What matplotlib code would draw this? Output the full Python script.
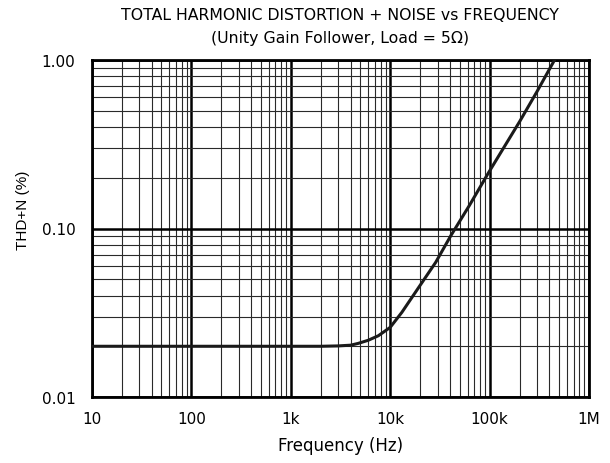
import matplotlib
matplotlib.use("Agg")
import matplotlib.pyplot as plt
from matplotlib.ticker import FixedLocator, NullFormatter, LogLocator

plt.rcParams['font.family'] = ['DejaVu Sans']

# Data
freq_hz = [10, 100, 1000, 2000, 3000, 4000, 4760, 6000, 7600, 10000, 13100, 19400,
           28700, 40700, 62600, 96000, 136000, 200000, 300000, 450000]
thd_n = [0.020, 0.020, 0.020, 0.020, 0.0201, 0.0203, 0.0208, 0.0217, 0.0231, 0.0259, 0.0318, 0.0448,
         0.063, 0.0906, 0.137, 0.211, 0.296, 0.43, 0.65, 1.00]

x_ticks = [10, 100, 1000, 10000, 100000, 1000000]
x_ticklabels = ["10", "100", "1k", "10k", "100k", "1M"]
y_ticks = [0.01, 0.1, 1.0]
y_ticklabels = ["0.01", "0.10", "1.00"]

fig = plt.figure(figsize=(6.1, 4.64), dpi=100)
ax = fig.add_axes([92/610, 1-398/464, (589-92)/610, (398-61)/464])

ax.set_xscale('log')
ax.set_yscale('log')
ax.set_xlim(10, 1e6)
ax.set_ylim(0.01, 1.0)

ax.xaxis.set_major_locator(FixedLocator(x_ticks))
ax.set_xticklabels(x_ticklabels)
ax.yaxis.set_major_locator(FixedLocator(y_ticks))
ax.set_yticklabels(y_ticklabels)
ax.xaxis.set_minor_locator(LogLocator(base=10, subs=range(2, 10), numticks=100))
ax.yaxis.set_minor_locator(LogLocator(base=10, subs=range(2, 10), numticks=100))
ax.xaxis.set_minor_formatter(NullFormatter())
ax.yaxis.set_minor_formatter(NullFormatter())

ax.grid(which='major', color='black', linewidth=1.8)
ax.grid(which='minor', color='#2a2a2a', linewidth=0.8)
ax.tick_params(which='both', length=0, labelsize=11, colors='black')
ax.tick_params(axis='x', pad=10)
ax.tick_params(axis='y', pad=12)
ax.set_axisbelow(True)

for s in ax.spines.values():
    s.set_linewidth(2.0)
    s.set_color('black')

ax.plot(freq_hz, thd_n, color='#1a1a1a', linewidth=2.2, zorder=5)

ax.set_xlabel("Frequency (Hz)", fontsize=12, labelpad=7)
fig.text(23/610, 1-210/464, "THD+N (%)", rotation=90, ha='center', va='center',
         fontsize=11, family=['Liberation Sans', 'DejaVu Sans'])

fig.text(340/610, 1-15/464, "TOTAL HARMONIC DISTORTION + NOISE vs FREQUENCY",
         ha='center', va='center', fontsize=11.3)
fig.text(340/610, 1-38/464, "(Unity Gain Follower, Load = 5\u03a9)",
         ha='center', va='center', fontsize=11.3)

fig.savefig("out.png", dpi=100)
